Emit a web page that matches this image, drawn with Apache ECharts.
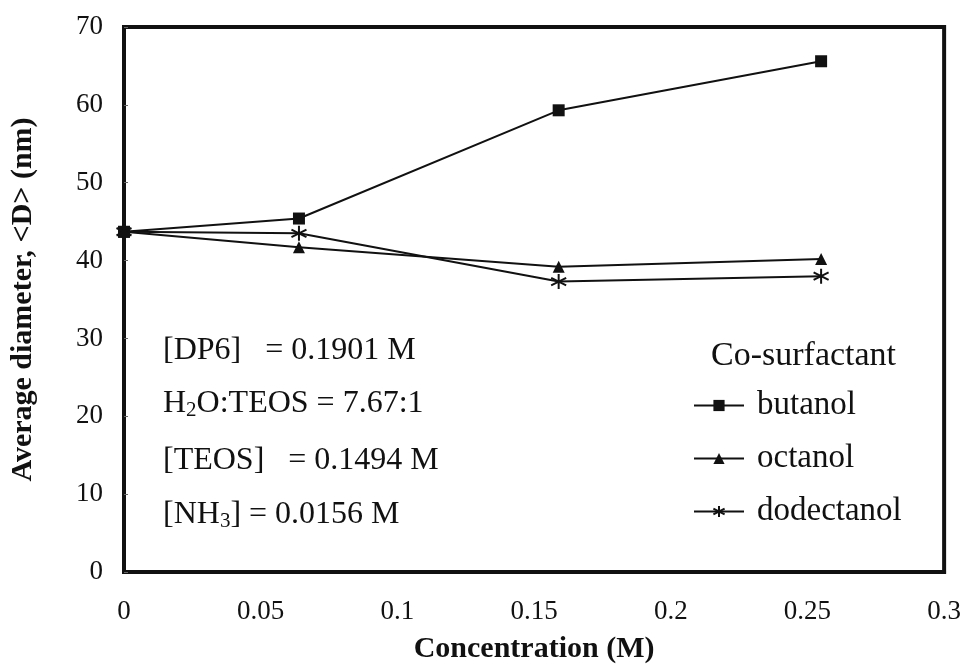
<!DOCTYPE html>
<html>
<head>
<meta charset="utf-8">
<script src="https://cdn.jsdelivr.net/npm/echarts@6/dist/echarts.min.js"></script>
<style>
  html, body { margin: 0; padding: 0; background: #fff; }
  #chart { width: 964px; height: 669px; }
</style>
</head>
<body>
<div id="chart"></div>
<script>
// Co-surfactant concentration (M) vs. average particle diameter (nm)
const concentration = [0, 0.064, 0.159, 0.255];
const butanol = [43.7, 45.4, 59.3, 65.6];
const octanol = [43.7, 41.7, 39.2, 40.2];
const dodectanol = [43.7, 43.5, 37.3, 38.0];

const xTicks = { min: 0, max: 0.3, step: 0.05 };
const yTicks = { min: 0, max: 70, step: 10 };

const FONT = '"Liberation Serif", "Times New Roman", serif';
const starPath = 'path://M0,-10L0,10M-8.66,-5L8.66,5M-8.66,5L8.66,-5';

function pairs(ys) {
  return concentration.map((x, i) => [x, ys[i]]);
}

const lineStyle = { color: '#111', width: 2 };
const sub = { font: '21px ' + FONT, fill: '#111', padding: [12, 0, 0, 0] };
const norm = { font: '32px ' + FONT, fill: '#111' };

const chart = echarts.init(document.getElementById('chart'), null, { renderer: 'canvas' });
chart.setOption({
  animation: false,
  backgroundColor: '#fff',
  grid: {
    left: 124, right: 18, top: 27, bottom: 96,
    show: true, borderColor: '#111', borderWidth: 4, backgroundColor: 'transparent'
  },
  xAxis: {
    type: 'value',
    min: xTicks.min, max: xTicks.max, interval: xTicks.step,
    name: 'Concentration (M)',
    nameLocation: 'middle',
    nameGap: 62,
    nameTextStyle: { fontFamily: FONT, fontSize: 30, fontWeight: 'bold', color: '#111' },
    axisLine: { show: true, lineStyle: { color: '#111', width: 4 } },
    axisTick: { show: false },
    splitLine: { show: false },
    axisLabel: { fontFamily: FONT, fontSize: 27, color: '#111', margin: 26 }
  },
  yAxis: {
    type: 'value',
    min: yTicks.min, max: yTicks.max, interval: yTicks.step,
    name: 'Average diameter, <D> (nm)',
    nameLocation: 'middle',
    nameRotate: 90,
    nameGap: 86,
    nameTextStyle: { fontFamily: FONT, fontSize: 30, fontWeight: 'bold', color: '#111' },
    axisLine: { show: true, lineStyle: { color: '#111', width: 4 } },
    axisTick: { show: true, inside: true, length: 4, lineStyle: { color: '#666', width: 1 } },
    splitLine: { show: false },
    axisLabel: { fontFamily: FONT, fontSize: 27, color: '#111', margin: 21 }
  },
  legend: {
    orient: 'vertical',
    left: 693, top: 389,
    padding: 0,
    itemWidth: 50, itemHeight: 14,
    itemGap: 20,
    textStyle: { fontFamily: FONT, fontSize: 33, lineHeight: 33, color: '#111', padding: [0, 0, 0, 8] },
    data: ['butanol', 'octanol', 'dodectanol']
  },
  series: [
    {
      name: 'butanol', type: 'line', data: pairs(butanol),
      symbol: 'rect', symbolSize: 12,
      lineStyle: lineStyle, itemStyle: { color: '#111' }
    },
    {
      name: 'octanol', type: 'line', data: pairs(octanol),
      symbol: 'triangle', symbolSize: 12,
      lineStyle: lineStyle, itemStyle: { color: '#111' }
    },
    {
      name: 'dodectanol', type: 'line', data: pairs(dodectanol),
      symbol: starPath, symbolSize: 15,
      lineStyle: lineStyle, itemStyle: { color: '#111', borderColor: '#111', borderWidth: 2 }
    }
  ],
  graphic: [
    {
      type: 'text', x: 711, y: 356,
      style: { text: 'Co-surfactant', font: '34px ' + FONT, fill: '#111', verticalAlign: 'middle' }
    },
    {
      type: 'text', x: 163, y: 351,
      style: { text: '[DP6]   = 0.1901 M', font: '32px ' + FONT, fill: '#111', verticalAlign: 'middle' }
    },
    {
      type: 'text', x: 163, y: 404,
      style: {
        text: '{n|H}{s|2}{n|O:TEOS = 7.67:1}',
        verticalAlign: 'middle',
        rich: { n: norm, s: sub }
      }
    },
    {
      type: 'text', x: 163, y: 461,
      style: { text: '[TEOS]   = 0.1494 M', font: '32px ' + FONT, fill: '#111', verticalAlign: 'middle' }
    },
    {
      type: 'text', x: 163, y: 515,
      style: {
        text: '{n|[NH}{s|3}{n|] = 0.0156 M}',
        verticalAlign: 'middle',
        rich: { n: norm, s: sub }
      }
    }
  ]
});
</script>
</body>
</html>
